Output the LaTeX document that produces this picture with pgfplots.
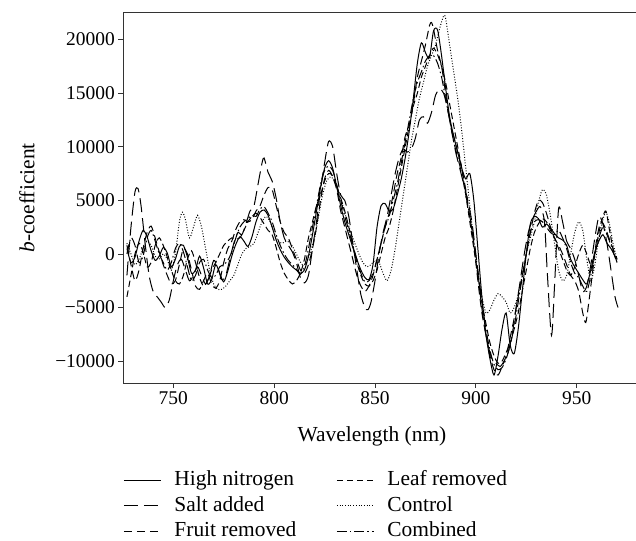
\documentclass[border=0pt]{standalone}
\usepackage{pgfplots}
\pgfplotsset{compat=1.18}
\usepackage{fontspec}
\setmainfont{Liberation Serif}
\begin{document}
\begin{tikzpicture}
\begin{axis}[
 name=ax,
 scale only axis, width=512.7bp, height=370.3bp,
 xmin=725.2, xmax=979.4, ymin=-12040, ymax=22510,
 axis x line*=box, axis y line*=left,
 axis line style={-, line width=0.8bp, draw=black!80},
 every outer x axis line/.append style={-},
 every outer y axis line/.append style={-},
 xtick={750,800,850,900,950}, xticklabels={750,800,850,900,950},
 ytick={-10000,-5000,0,5000,10000,15000,20000},
 yticklabels={−10000,−5000,0,5000,10000,15000,20000},
 xtick pos=lower, ytick pos=left, tick align=outside,
 major tick length=5bp, tick style={line width=0.8bp, draw=black!80},
 scaled y ticks=false,
 every tick label/.append style={font=\fontsize{19.5}{23}\selectfont},
 label style={font=\fontsize{21.5}{25}\selectfont},
 xlabel={Wavelength (nm)},
 ylabel={\textit{b}-coefficient},
 xlabel style={at={(axis description cs:0.485,-0.143)}, anchor=center},
 ylabel style={at={(axis description cs:-0.188,0.5)}, anchor=center},
 legend image code/.code={\draw[#1] (0bp,0bp) -- (37bp,0bp);},
 legend cell align=left,
 legend columns=2,
 legend style={at={(axis description cs:0,-0.235)}, anchor=north west, draw=none, fill=none,
   inner sep=0pt, font=\fontsize{21.5}{25}\selectfont,
   nodes={inner xsep=0bp, inner ysep=0bp, text height=15.5bp, text depth=5bp},
   row sep=5bp,
   /tikz/every odd column/.append style={column sep=13bp},
   /tikz/every even column/.append style={column sep=40bp}},
 every axis plot/.append style={line width=1bp, black, smooth, tension=0.45},
]
% High nitrogen (solid)
\addplot[solid] coordinates {(727,500)(729,-800)(731,-300)(733,1200)(735,2200)(737,1600)(739,300)(741,-600)(743,-200)(745,600)(747,100)(749,-1200)(751,-500)(753,700)(755,800)(757,-300)(759,-1800)(761,-1500)(763,-200)(765,-1300)(767,-2800)(769,-2400)(771,-1000)(773,-1800)(775,-2600)(777,-1600)(779,-200)(781,900)(783,1600)(785,1200)(787,700)(789,1600)(791,3000)(793,3900)(795,4100)(797,3600)(799,2500)(801,1300)(803,400)(805,-300)(807,-800)(809,-1200)(811,-1500)(813,-1800)(815,-1500)(817,-200)(819,1800)(821,4000)(823,6200)(825,8000)(827,8700)(829,8000)(831,6300)(833,4500)(835,3000)(837,1800)(839,600)(841,-500)(843,-1500)(845,-2200)(847,-2400)(849,-1000)(851,2500)(853,4500)(855,4700)(857,4000)(859,4200)(861,5500)(863,7000)(865,9000)(867,11500)(869,14500)(871,17800)(873,19700)(875,18800)(877,18300)(879,20800)(881,20900)(883,18500)(885,15500)(887,12800)(889,11000)(891,9500)(893,8000)(895,7000)(897,7500)(899,5000)(901,500)(903,-4000)(905,-7500)(907,-9800)(909,-11300)(911,-9500)(913,-7000)(915,-5500)(917,-8500)(919,-9300)(921,-7000)(923,-3500)(925,0)(927,2800)(929,3500)(931,3300)(933,2500)(935,2800)(937,2400)(939,1900)(941,1500)(943,1300)(945,800)(947,-500)(949,-1200)(951,-1800)(953,-2400)(955,-2800)(957,-1500)(959,200)(961,1200)(963,1800)(965,1000)(967,500)(969,-200)(970,-400)};
\addlegendentry{High nitrogen}
% Leaf removed (short dash)
\addplot[dash pattern=on 6.5bp off 3.5bp] coordinates {(727,-4000)(729,-2000)(731,0)(733,1000)(735,200)(737,-1200)(739,-800)(741,800)(743,1500)(745,800)(747,-300)(749,-1500)(751,-2500)(753,-2800)(755,-2000)(757,-500)(759,300)(761,-800)(763,-2200)(765,-3000)(767,-2500)(769,-1500)(771,-800)(773,0)(775,800)(777,1200)(779,1500)(781,1400)(783,1500)(785,2200)(787,3000)(789,3500)(791,3800)(793,3400)(795,2800)(797,2200)(799,1800)(801,600)(803,-800)(805,-1800)(807,-2400)(809,-2800)(811,-2500)(813,-1800)(815,-500)(817,1500)(819,3000)(821,4500)(823,5500)(825,6800)(827,7500)(829,7300)(831,6200)(833,5200)(835,4000)(837,2500)(839,800)(841,-800)(843,-2000)(845,-2800)(847,-3000)(849,-2500)(851,-1500)(853,0)(855,1500)(857,2500)(859,4000)(861,6000)(863,8000)(865,10000)(867,12000)(869,13800)(871,15000)(873,16500)(875,17500)(877,18500)(879,19200)(881,18600)(883,17500)(885,16000)(887,14000)(889,12000)(891,10000)(893,8000)(895,5500)(897,3000)(899,500)(901,-2000)(903,-4500)(905,-6500)(907,-8300)(909,-9500)(911,-10200)(913,-10000)(915,-9200)(917,-8300)(919,-7000)(921,-5500)(923,-3500)(925,-1500)(927,500)(929,2000)(931,2800)(933,3300)(935,3000)(937,2200)(939,1500)(941,500)(943,-500)(945,-1500)(947,-2000)(949,-1200)(951,0)(953,800)(955,0)(957,-1000)(959,0)(961,2000)(963,3500)(964.5,4000)(966,2500)(968,500)(970,-800)};
\addlegendentry{Leaf removed}
% Salt added (long dash)
\addplot[dash pattern=on 14bp off 6bp] coordinates {(727,-2000)(729,2500)(731,5800)(732.5,6100)(734,4500)(736,1000)(738,-2000)(740,-3500)(742,-4000)(744,-4500)(746,-5000)(748,-4300)(750,-2500)(752,-1000)(754,-500)(756,-1500)(758,-2500)(760,-2000)(762,-1200)(764,-2000)(766,-2800)(768,-2000)(770,-600)(772,-1200)(774,-2400)(776,-2000)(778,-500)(780,1000)(782,2000)(784,1800)(786,2800)(788,4000)(790,4500)(792,6500)(794,8500)(795,8950)(797,7600)(799,6800)(801,5200)(803,3000)(805,1500)(807,800)(809,200)(811,-800)(813,-2200)(815,-2700)(817,-2000)(819,500)(821,3000)(823,6000)(825,8500)(827,10500)(829,10000)(831,7500)(833,5500)(835,5000)(837,3500)(839,1000)(841,-1500)(843,-3800)(845,-5000)(846.5,-5200)(848,-4500)(850,-2500)(852,0)(854,2000)(856,3500)(858,5500)(860,7500)(862,9000)(864,9800)(866,9500)(868,9800)(870,10800)(872,12500)(874,12800)(876,12200)(878,13200)(880,14800)(882,15400)(884,15000)(886,13500)(888,11500)(890,9500)(892,8000)(894,6500)(896,5000)(898,3000)(900,0)(902,-3500)(904,-6500)(906,-8500)(908,-9800)(910,-10200)(912,-10500)(914,-10000)(916,-9200)(918,-7500)(920,-5000)(922,-2500)(924,0)(926,2000)(928,3200)(930,4000)(932,4400)(934,3000)(935.5,-2000)(937.5,-7600)(939,-3000)(941,4200)(943,3000)(945,1200)(947,500)(949,-500)(951,-2000)(953,-3500)(955,-3000)(957,-1000)(959,1500)(961,3500)(963,2800)(965,1000)(967,-1500)(969,-4000)(970.5,-5000)};
\addlegendentry{Salt added}
% Control (dotted)
\addplot[dash pattern=on 0.9bp off 1.8bp] coordinates {(727,1000)(729,0)(731,-1000)(733,-500)(735,500)(737,1200)(739,800)(741,-200)(743,-500)(745,0)(747,-500)(749,-1500)(751,0)(753,3000)(754.5,3900)(756,3200)(758,1500)(760,2500)(762,3600)(764,2500)(766,500)(768,-1500)(770,-2800)(772,-3300)(774,-3300)(776,-3000)(778,-2500)(780,-2000)(782,-1000)(784,0)(786,500)(788,700)(790,1000)(792,2000)(794,3000)(796,3500)(798,3000)(800,2000)(802,1200)(804,1000)(806,1200)(808,1000)(810,400)(812,-400)(814,-1000)(816,-800)(818,200)(820,1500)(822,3500)(824,5500)(826,6800)(828,7200)(830,6800)(832,5800)(834,4500)(836,3200)(838,2000)(840,1000)(842,0)(844,-800)(846,-1200)(848,-1000)(850,-600)(852,-800)(854,-1800)(856,-2500)(858,-1500)(860,500)(862,3000)(864,5500)(866,8000)(868,10500)(870,12500)(872,14500)(874,16000)(876,17500)(878,18500)(880,19500)(882,21000)(884,22200)(885,22000)(887,19500)(889,17000)(891,14500)(893,11500)(895,8000)(897,4500)(899,1000)(901,-2000)(903,-4000)(905,-5500)(907,-5200)(909,-4300)(911,-3700)(913,-4000)(915,-4500)(917,-5500)(919,-5000)(921,-3800)(923,-2000)(925,0)(927,1500)(929,3000)(931,4800)(933,6000)(935,5500)(937,3500)(939,1000)(941,-1500)(943,-2500)(945,-2000)(947,0)(949,2000)(951,3000)(953,2200)(955,-500)(957,-2500)(959,-1000)(961,1500)(963,3200)(964.5,3900)(966,3000)(968,1000)(970,-500)};
\addlegendentry{Control}
% Fruit removed (medium dash)
\addplot[dash pattern=on 8.5bp off 4.5bp] coordinates {(727,800)(729,-1000)(731,-2500)(733,-1500)(735,500)(737,2000)(739,2600)(741,1500)(743,200)(745,-1000)(747,-2000)(749,-2800)(751,-2500)(753,-1000)(755,500)(757,0)(759,-1500)(761,-3000)(763,-3300)(765,-2500)(767,-1800)(769,-2800)(771,-3200)(773,-2500)(775,-800)(777,500)(779,1200)(781,2300)(783,3000)(785,3200)(787,3000)(789,3200)(791,4000)(793,4500)(795,5500)(797,6200)(799,6000)(801,4500)(803,3000)(805,2000)(807,1500)(809,500)(811,-500)(813,-1500)(815,-1800)(817,-1000)(819,500)(821,2500)(823,5000)(825,7000)(827,7800)(829,7200)(831,6000)(833,4000)(835,2500)(837,1000)(839,-500)(841,-2000)(843,-3000)(845,-3500)(847,-3000)(849,-2000)(851,-500)(853,1000)(855,2500)(857,3800)(859,5500)(861,7500)(863,9000)(865,11000)(867,12000)(869,14000)(871,16500)(873,18000)(875,19500)(877,21300)(878,21600)(879,21000)(881,19000)(883,17500)(885,15000)(887,12500)(889,11000)(891,9500)(893,8000)(895,6000)(897,3500)(899,1000)(901,-2500)(903,-5500)(905,-7500)(907,-9500)(909,-10800)(911,-11300)(913,-10500)(915,-9500)(917,-7800)(919,-6000)(921,-4000)(923,-2000)(925,0)(927,2000)(929,3800)(931,5000)(933,4800)(935,3800)(937,2500)(939,1500)(941,800)(943,0)(945,-1000)(947,-2000)(949,-2500)(951,-3500)(953,-5500)(954.5,-6400)(956,-4500)(958,-1500)(960,1500)(962,3000)(964,2500)(966,1500)(968,500)(970,-500)};
\addlegendentry{Fruit removed}
% Combined (dash-dot)
\addplot[dash pattern=on 10bp off 3bp on 1.5bp off 3bp] coordinates {(727,0)(729,1500)(731,800)(733,-800)(735,-200)(737,1500)(739,2200)(741,1200)(743,0)(745,-800)(747,-1500)(749,-800)(751,500)(753,1000)(755,200)(757,-1200)(759,-2500)(761,-2000)(763,-800)(765,-500)(767,-1500)(769,-2200)(771,-2000)(773,-1200)(775,-1000)(777,-600)(779,200)(781,1500)(783,2500)(785,3000)(787,3300)(789,3600)(791,3500)(793,4200)(795,4400)(797,3800)(799,3000)(801,1800)(803,800)(805,0)(807,-600)(809,-1000)(811,-1400)(813,-1900)(815,-1200)(817,500)(819,2500)(821,4500)(823,6500)(825,7800)(827,8200)(829,7800)(831,6500)(833,5000)(835,3500)(837,2200)(839,800)(841,-500)(843,-1800)(845,-2600)(847,-2500)(849,-1800)(851,-500)(853,1000)(855,2500)(857,3500)(859,5000)(861,6500)(863,8500)(865,10500)(867,12500)(869,14500)(871,16000)(873,17000)(875,18000)(877,18500)(879,18500)(881,17800)(883,16500)(885,14500)(887,12500)(889,10500)(891,9000)(893,7500)(895,5500)(897,3500)(899,1000)(901,-1500)(903,-4500)(905,-7000)(907,-9000)(909,-10300)(911,-10800)(913,-10600)(915,-9800)(917,-8500)(919,-6800)(921,-4500)(923,-2200)(925,0)(927,2000)(929,3000)(931,3200)(933,3000)(935,2500)(937,2000)(939,1800)(941,2200)(943,1500)(945,500)(947,-800)(949,-1800)(951,-2200)(953,-3000)(955,-3500)(957,-2000)(959,0)(961,1500)(963,2500)(965,1800)(967,800)(969,-300)(970,-800)};
\addlegendentry{Combined}
\end{axis}
\pgfresetboundingbox
\path[use as bounding box] ([xshift=-123.3bp,yshift=-158bp]ax.south west) rectangle ([yshift=12.7bp]ax.north east);
\end{tikzpicture}
\end{document}
